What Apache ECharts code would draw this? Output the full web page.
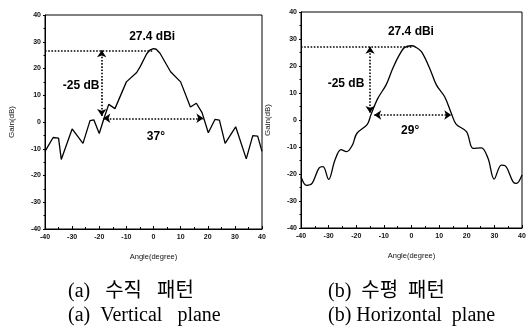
<!DOCTYPE html>
<html><head><meta charset="utf-8">
<script src="https://cdn.jsdelivr.net/npm/echarts@6/dist/echarts.min.js"></script>
<style>html,body{margin:0;padding:0;background:#fff}#c{width:531px;height:336px}</style>
</head><body><div id="c"></div><script>
// (a) Vertical plane
const vAngles = [-40,-37,-35,-34,-30,-26,-23.4,-22,-20,-18.3,-16.5,-14.2,-10,-6.2,-5,-2.5,-1.2,0,1,2.4,6.3,10,13.6,15.8,17.9,20.2,22.7,24.3,26.4,30.3,34.2,36.6,38.4,40];
const vGain   = [-11,-5.8,-6,-14,-2.6,-8,0.5,0.8,-4.3,1.2,6.6,5,15,18.5,20.5,25.5,27,27.4,27.2,25.7,18.8,15,5.6,7,3.5,-4,1,0.7,-8,-1.8,-13.8,-5.1,-5.3,-11];
// (b) Horizontal plane
const hAngles = [-40,-38,-36,-33.5,-32,-30,-27.7,-25.5,-23.5,-21.4,-19.8,-16,-14.7,-12.2,-9.2,-6.8,-4.4,-2.6,0,1.5,3.6,6.6,9,12,14.4,16.2,19.9,22.3,25.3,27.7,29.9,32.5,34,36.7,38,40];
const hGain   = [-21,-24.2,-23.5,-17.8,-17.3,-22,-14.8,-11,-11.7,-9.3,-5,-1.6,1.9,8,13,19.1,24.1,26.8,27.5,27,25.3,19.1,13,8.6,2.5,-1.6,-4.3,-10.5,-10.3,-14.2,-21.9,-16.7,-17,-22.8,-23.5,-20.4];
const xRange = [-40, 40, 10];
const yRange = [-40, 40, 10];
const peakText = '27.4 dBi';
const dropText = '-25 dB';
const vBeamText = '37°';
const hBeamText = '29°';
const captions = [['(a)   수직   패턴','(a)  Vertical   plane'],['(b)  수평  패턴','(b) Horizontal  plane']];

const chart = echarts.init(document.getElementById('c'), null, {renderer:'canvas'});
const tickFont = {fontFamily:'Liberation Sans', fontSize:7, fontWeight:'bold', color:'#111'};
function xAx(i){return {type:'value', gridIndex:i, min:xRange[0], max:xRange[1], interval:xRange[2],
  name:'Angle(degree)', nameLocation:'middle', nameGap:24,
  nameTextStyle:{fontFamily:'Liberation Sans', fontSize:7.5, color:'#111'},
  axisLine:{onZero:false, lineStyle:{color:'#000', width:1}}, axisTick:{inside:true, length:3, lineStyle:{color:'#000'}},
  minorTick:{show:true, splitNumber:2, length:2, lineStyle:{color:'#000'}},
  axisLabel:Object.assign({margin:5}, tickFont), splitLine:{show:false}};}
function yAx(i){return {type:'value', gridIndex:i, min:yRange[0], max:yRange[1], interval:yRange[2],
  name:'Gain(dB)', nameLocation:'middle', nameGap:29, nameRotate:90,
  nameTextStyle:{fontFamily:'Liberation Sans', fontSize:8, color:'#111'},
  axisLine:{onZero:false, lineStyle:{color:'#000', width:1}}, axisTick:{inside:false, length:2, lineStyle:{color:'#000'}},
  minorTick:{show:true, splitNumber:2, length:1.5, lineStyle:{color:'#000'}},
  axisLabel:Object.assign({margin:4}, tickFont), splitLine:{show:false}};}
const dot = {type:'dotted', color:'#000', width:1.6};
function seg(a,b,sa,sb){return [{coord:a, symbol:sa},{coord:b, symbol:sb}];}
function ann(x,y,t,size){return {coord:[x,y], value:t, label:{show:true, formatter:t, position:'inside',
  fontFamily:'Liberation Sans', fontWeight:'bold', fontSize:size, color:'#000'}};}
function series(i, xs, ys, ml, mp){
  return {type:'line', xAxisIndex:i, yAxisIndex:i, data:xs.map((x,k)=>[x,ys[k]]),
    showSymbol:false, smooth: i===1 ? 0.35 : false, lineStyle:{color:'#000', width:1.3},
    animation:false, silent:true,
    markLine:{silent:true, animation:false, symbolSize:[7,7], label:{show:false}, lineStyle:dot, data:ml},
    markPoint:{silent:true, animation:false, symbol:'circle', symbolSize:0, data:mp}};
}
chart.setOption({
  backgroundColor:'#fff',
  animation:false,
  grid:[{left:45, top:15, width:217, height:214, show:true, borderColor:'#000', borderWidth:1},
        {left:301, top:12, width:221, height:216, show:true, borderColor:'#000', borderWidth:1}],
  xAxis:[xAx(0), xAx(1)],
  yAxis:[yAx(0), yAx(1)],
  series:[
    series(0, vAngles, vGain, [
      seg([-40,26.8],[0,26.8],'none','none'),
      seg([-19.1,26.8],[-19.1,2.2],'arrow','arrow'),
      seg([-18.5,1.4],[18.4,1.4],'arrow','arrow')
    ], [ann(-0.5,31.8,peakText,12), ann(-26.7,13.5,dropText,12), ann(0.9,-5.6,vBeamText,12)]),
    series(1, hAngles, hGain, [
      seg([-40,27.1],[0,27.1],'none','none'),
      seg([-15,27.1],[-15,2.6],'arrow','arrow'),
      seg([-13.5,1.85],[14.4,1.85],'arrow','arrow')
    ], [ann(-0.2,32.6,peakText,12), ann(-23.7,13.3,dropText,12), ann(-0.5,-4.1,hBeamText,12)])
  ],
  graphic:[
    {type:'text', left:68, top:282, style:{text:captions[0][0], font:'20px "Liberation Serif","Noto Sans CJK KR"', fill:'#000'}},
    {type:'text', left:68, top:306, style:{text:captions[0][1], font:'20px "Liberation Serif"', fill:'#000'}},
    {type:'text', left:328, top:282, style:{text:captions[1][0], font:'20px "Liberation Serif","Noto Sans CJK KR"', fill:'#000'}},
    {type:'text', left:328, top:306, style:{text:captions[1][1], font:'20px "Liberation Serif"', fill:'#000'}}
  ]
});
</script></body></html>
